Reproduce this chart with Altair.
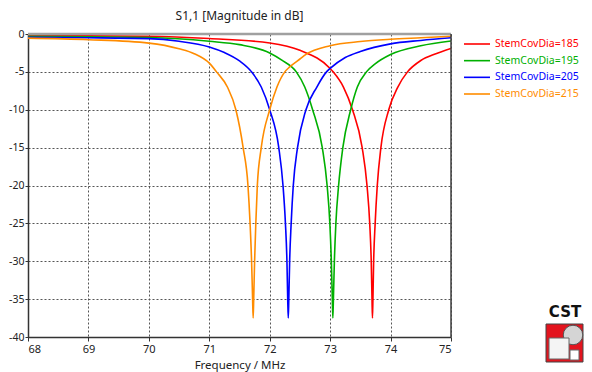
import altair as alt
import pandas as pd

# ---- data ----
series_names = ["StemCovDia=185", "StemCovDia=195", "StemCovDia=205", "StemCovDia=215"]
series_colors = ["#ff0000", "#00b000", "#0000ff", "#ff8c00"]

f185 = [68.0, 69.0, 70.0, 71.0, 72.0, 72.5, 73.0, 73.05, 73.22, 73.37, 73.53, 73.61, 73.655,
        73.68, 73.693, 73.70, 73.708, 73.72, 73.745, 73.78, 73.84, 73.97, 74.12, 74.28, 74.5, 74.75, 75.0]
d185 = [-0.2, -0.25, -0.3, -0.6, -1.18, -2.15, -4.55, -5.0, -7.0, -10, -15, -20, -25,
        -30, -35, -37.5, -35, -30, -25, -20, -15, -10, -7.0, -5.0, -3.5, -2.6, -1.9]

f195 = [68.0, 69.0, 70.0, 71.0, 71.5, 72.0, 72.2, 72.44, 72.58, 72.71, 72.87, 72.95, 72.995,
        73.02, 73.036, 73.045, 73.054, 73.07, 73.095, 73.14, 73.21, 73.34, 73.45, 73.6, 73.75,
        74.0, 74.5, 75.0]
d195 = [-0.3, -0.38, -0.47, -0.96, -1.4, -2.5, -3.45, -5.0, -7.0, -10, -15, -20, -25,
        -30, -35, -37.5, -35, -30, -25, -20, -15, -10, -7.0, -5.0, -3.9,
        -2.7, -1.55, -0.92]

f205 = [68.0, 69.0, 70.0, 70.5, 71.0, 71.25, 71.5, 71.70, 71.86, 72.0, 72.15, 72.22, 72.26, 72.285,
        72.298, 72.307, 72.316, 72.33, 72.355, 72.39, 72.46, 72.6, 72.78, 72.94, 73.0, 73.25, 73.5,
        74.0, 74.5, 75.0]
d205 = [-0.45, -0.5, -0.61, -0.96, -1.71, -2.45, -3.55, -5.0, -7.0, -10, -15, -20, -25, -30,
        -35, -37.5, -35, -30, -25, -20, -15, -10, -7.0, -5.0, -4.55, -3.1, -2.3,
        -1.3, -0.85, -0.5]

f215 = [68.0, 69.0, 70.0, 70.5, 70.75, 71.0, 71.12, 71.3, 71.44, 71.56, 71.64, 71.675, 71.70, 71.717,
        71.726, 71.735, 71.75, 71.77, 71.795, 71.86, 72.0, 72.12, 72.25, 72.33, 72.5, 72.6, 73.0,
        73.5, 74.0, 74.5, 75.0]
d215 = [-0.55, -0.75, -1.2, -1.95, -2.6, -3.85, -5.0, -7.0, -10, -15, -20, -25, -30, -35,
        -37.5, -35, -30, -25, -20, -15, -10, -7.0, -5.0, -4.35, -3.3, -2.7, -1.55,
        -1.0, -0.7, -0.5, -0.3]

x_ticks = [68, 69, 70, 71, 72, 73, 74, 75]
y_ticks = [-40, -35, -30, -25, -20, -15, -10, -5, 0]

rows = []
for name, fs, ds in zip(series_names, [f185, f195, f205, f215], [d185, d195, d205, d215]):
    for f, d in zip(fs, ds):
        rows.append({"freq": f, "db": d, "series": name})
df = pd.DataFrame(rows)
legend_df = pd.DataFrame({"series": series_names})

FONT = "Noto Sans"
W, H = 423, 303

hyphen_labels = "datum.value < 0 ? '-' + toString(-datum.value) : toString(datum.value)"

color_enc = alt.Color("series:N", scale=alt.Scale(domain=series_names, range=series_colors),
                      legend=None)

lines = alt.Chart(df).mark_line(strokeWidth=1.6, interpolate="monotone", clip=True).encode(
    x=alt.X("freq:Q",
            scale=alt.Scale(domain=[68, 75], nice=False, zero=False),
            axis=alt.Axis(values=x_ticks, title="Frequency / MHz", labelExpr=hyphen_labels,
                          grid=True, gridDash=[2, 2], gridColor="#555555", gridWidth=1,
                          tickSize=4, tickColor="#333333", domainColor="#333333", domainWidth=1.5,
                          labelFont=FONT, labelFontSize=11, labelColor="#222222", labelPadding=2,
                          titleFont=FONT, titleFontSize=11.5, titleFontWeight="normal",
                          titleColor="#222222", titlePadding=5)),
    y=alt.Y("db:Q",
            scale=alt.Scale(domain=[-40, 0], nice=False, zero=False),
            axis=alt.Axis(values=y_ticks, title=None, labelExpr=hyphen_labels,
                          grid=True, gridDash=[2, 2], gridColor="#555555", gridWidth=1,
                          tickSize=3, tickColor="#333333", domainColor="#333333", domainWidth=1.5,
                          labelFont=FONT, labelFontSize=10.5, labelColor="#222222", labelPadding=1)),
    color=color_enc,
    order=alt.Order("freq:Q"),
)

# legend drawn from the series list through a point scale
legend_y = alt.Y("series:N", scale=alt.Scale(domain=series_names, range=[10, 60], type="point",
                                             padding=0), axis=None)
legend_lines = alt.Chart(legend_df).mark_rule(strokeWidth=1.6).encode(
    x=alt.value(436), x2=alt.value(462), y=legend_y, color=color_enc)
legend_text = alt.Chart(legend_df).mark_text(font=FONT, fontSize=10.5, align="left",
                                             baseline="middle").encode(
    x=alt.value(467), y=legend_y, text="series:N", color=color_enc)

one = pd.DataFrame({"k": [0]})

title = alt.Chart(one).mark_text(text="S1,1 [Magnitude in dB]", font=FONT, fontSize=12,
                                 color="#222222", baseline="middle", align="center").encode(
    x=alt.value(W / 2), y=alt.value(-18))

top_border = alt.Chart(one).mark_rule(color="#a0a0a0", strokeWidth=2.5).encode(
    x=alt.value(0), x2=alt.value(W), y=alt.value(0))
right_border = alt.Chart(one).mark_rule(color="#404040", strokeWidth=1.5).encode(
    x=alt.value(W), y=alt.value(0), y2=alt.value(H))

# CST logo (decoration)
logo_text = alt.Chart(one).mark_text(text="CST", font="DejaVu Sans", fontSize=15, fontWeight="bold",
                                     color="#111111", baseline="middle", align="center").encode(
    x=alt.value(537), y=alt.value(278))
logo_box = alt.Chart(one).mark_rect(fill="#e3141e", stroke="#444444", strokeWidth=1).encode(
    x=alt.value(518), x2=alt.value(555), y=alt.value(290), y2=alt.value(328))
logo_sphere = alt.Chart(one).mark_circle(size=380, color="#d5d5d5", opacity=1,
                                         stroke="#555555", strokeWidth=1).encode(
    x=alt.value(545), y=alt.value(301))
logo_cube = alt.Chart(one).mark_rect(fill="#f4f4f4", stroke="#666666", strokeWidth=1).encode(
    x=alt.value(521), x2=alt.value(541), y=alt.value(304), y2=alt.value(325))
logo_small = alt.Chart(one).mark_rect(fill="#ffffff", stroke="#666666", strokeWidth=1).encode(
    x=alt.value(542), x2=alt.value(551), y=alt.value(316), y2=alt.value(326))

chart = alt.layer(
    lines, legend_lines, legend_text, top_border, right_border, title,
    logo_box, logo_sphere, logo_cube, logo_small, logo_text
).resolve_scale(y="independent").properties(
    width=W, height=H,
    autosize=alt.AutoSizeParams(type="none"),
    padding={"left": 20, "top": 26, "right": 133, "bottom": 40},
).configure_view(stroke=None).configure(background="white")

chart.save("out.html", embed_options={"renderer": "svg", "actions": False})
